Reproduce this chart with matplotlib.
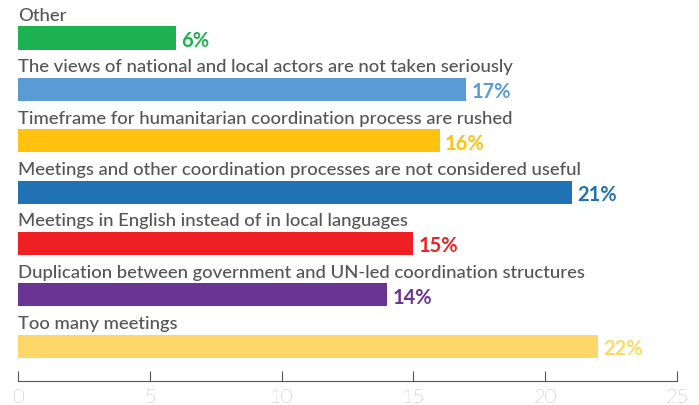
import matplotlib.pyplot as plt

categories = [
    'Other',
    'The views of national and local actors are not taken seriously',
    'Timeframe for humanitarian coordination process are rushed',
    'Meetings and other coordination processes are not considered useful',
    'Meetings in English instead of in local languages',
    'Duplication between government and UN-led coordination structures',
    'Too many meetings',
]
values = [6, 17, 16, 21, 15, 14, 22]
colors = ['#1db152', '#5b9bd5', '#ffc20e', '#2171b5', '#ee2024', '#6a3592', '#fdd868']
ticks = [0, 5, 10, 15, 20, 25]

plt.rcParams['font.family'] = ['Lato', 'DejaVu Sans']

fig = plt.figure(figsize=(6.99, 4.06), dpi=100)
ax = fig.add_axes([18 / 699, 1 - 382 / 406, 659 / 699, 382 / 406])

pos = list(range(len(values)))
ax.barh(pos, values, height=0.45, color=colors)
for y, (cat, v, c) in enumerate(zip(categories, values, colors)):
    ax.text(0, y - 0.45, cat, va='center', ha='left', fontsize=13.3,
            fontweight='medium', color='#555555')
    ax.text(v + 0.2, y + 0.04, f'{v}%', va='center', ha='left', fontsize=14.5,
            fontweight='bold', color=c)

ax.set_xlim(0, 25)
ax.set_ylim(6.68, -0.76)
ax.set_xticks(ticks)
ax.set_yticks([])
for s in ['top', 'right', 'left']:
    ax.spines[s].set_visible(False)
ax.spines['bottom'].set_color('#555555')
ax.tick_params(axis='x', direction='in', length=7, color='#555555', pad=5,
               labelsize=14.5, labelcolor='#777777')
for lab in ax.get_xticklabels():
    lab.set_fontweight('light')

fig.savefig('out.png', dpi=100)
